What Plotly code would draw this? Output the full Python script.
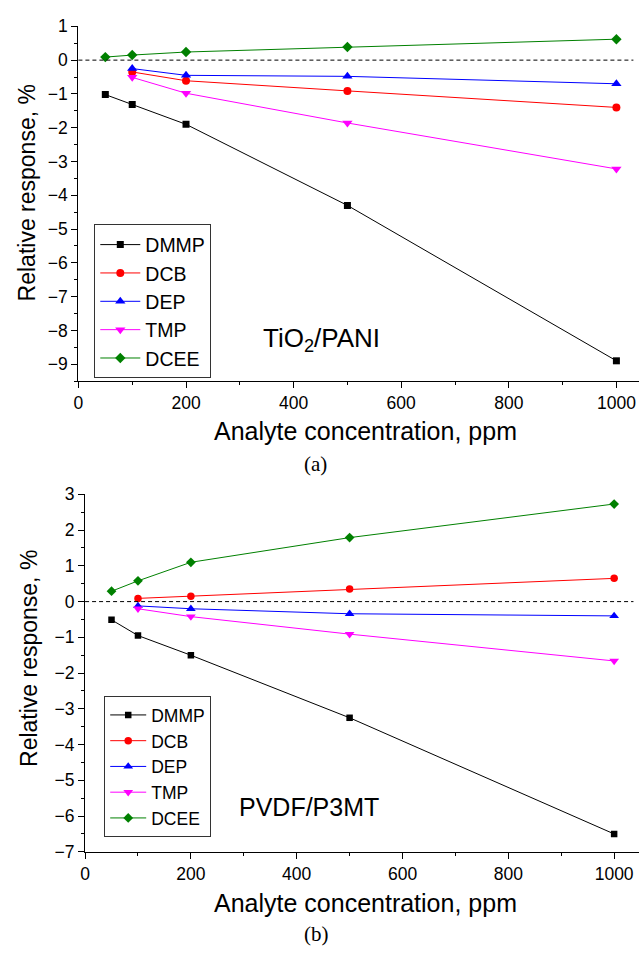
import plotly.graph_objects as go

# Analyte concentrations (ppm)
conc_all = [50, 100, 200, 500, 1000]
conc_no50 = [100, 200, 500, 1000]

# (a) TiO2/PANI relative response, %
a_dmmp = [-1.02, -1.31, -1.90, -4.30, -8.90]
a_dcb = [-0.35, -0.61, -0.91, -1.40]
a_dep = [-0.25, -0.45, -0.48, -0.70]
a_tmp = [-0.51, -0.98, -1.86, -3.22]
a_dcee = [0.09, 0.15, 0.24, 0.39, 0.62]

# (b) PVDF/P3MT relative response, %
b_dmmp = [-0.51, -0.95, -1.50, -3.25, -6.50]
b_dcb = [0.09, 0.15, 0.35, 0.65]
b_dep = [-0.12, -0.20, -0.34, -0.40]
b_tmp = [-0.20, -0.42, -0.91, -1.66]
b_dcee = [0.29, 0.58, 1.10, 1.79, 2.73]

names = ["DMMP", "DCB", "DEP", "TMP", "DCEE"]
colors = ["#000000", "#FF0000", "#0000FF", "#FF00FF", "#008000"]
symbols = ["square", "circle", "triangle-up", "triangle-down", "diamond"]
sizes_a = [7, 8, 9, 9, 8]
sizes_b = [6.5, 7.5, 8.5, 8.5, 7.5]

SANS = "Liberation Sans, Arial, sans-serif"
SERIF = "Liberation Serif, Times New Roman, serif"

fig = go.Figure()

panel_a = [(conc_all, a_dmmp), (conc_no50, a_dcb), (conc_no50, a_dep),
           (conc_no50, a_tmp), (conc_all, a_dcee)]
panel_b = [(conc_all, b_dmmp), (conc_no50, b_dcb), (conc_no50, b_dep),
           (conc_no50, b_tmp), (conc_all, b_dcee)]

for i, (xs, ys) in enumerate(panel_a):
    fig.add_trace(go.Scatter(
        x=xs, y=ys, name=names[i], mode="lines+markers",
        line=dict(color=colors[i], width=1),
        marker=dict(symbol=symbols[i], size=sizes_a[i], color=colors[i]),
        xaxis="x", yaxis="y", legend="legend"))

for i, (xs, ys) in enumerate(panel_b):
    fig.add_trace(go.Scatter(
        x=xs, y=ys, name=names[i], mode="lines+markers",
        line=dict(color=colors[i], width=1),
        marker=dict(symbol=symbols[i], size=sizes_b[i], color=colors[i]),
        xaxis="x2", yaxis="y2", legend="legend2"))

axis_common = dict(
    showline=True, linecolor="black", linewidth=1.2,
    ticks="outside", ticklen=6, tickwidth=1.2, tickcolor="black",
    showgrid=False, zeroline=False,
    tickfont=dict(family=SANS, size=17.5, color="black"),
)
minor_x = dict(dtick=100, ticklen=3, ticks="outside", tickcolor="black", tickwidth=1)
minor_y = dict(dtick=0.5, ticklen=3, ticks="outside", tickcolor="black", tickwidth=1)

W, H = 639, 957
fig.update_layout(
    width=W, height=H,
    margin=dict(l=0, r=0, t=0, b=0),
    paper_bgcolor="white", plot_bgcolor="white",
    xaxis=dict(axis_common, domain=[74 / W, 1], range=[0, 1042], anchor="y",
               dtick=200, minor=minor_x),
    yaxis=dict(axis_common, domain=[1 - 379 / H, 1 - 16.7 / H], range=[-9.5, 1],
               anchor="x", dtick=1, minor=minor_y),
    xaxis2=dict(axis_common, domain=[80.7 / W, 1], range=[0, 1047], anchor="y2",
                dtick=200, minor=minor_x),
    yaxis2=dict(axis_common, domain=[1 - 859.8 / H, 1 - 494.7 / H], range=[-7, 3],
                anchor="x2", dtick=1, minor=minor_y),
    legend=dict(x=90 / W, y=1 - 219 / H, xanchor="left", yanchor="top",
                bgcolor="white", bordercolor="#333333", borderwidth=1,
                font=dict(family=SANS, size=19.5, color="black"),
                itemwidth=40, tracegroupgap=0),
    legend2=dict(x=100 / W, y=1 - 700.7 / H, xanchor="left", yanchor="top",
                 bgcolor="white", bordercolor="#333333", borderwidth=1,
                 font=dict(family=SANS, size=17.5, color="black"),
                 itemwidth=36, tracegroupgap=0),
    showlegend=True,
)

# zero reference lines
for xr, yr in [("x domain", "y"), ("x2 domain", "y2")]:
    fig.add_shape(type="line", xref=xr, yref=yr, x0=0, x1=0.99, y0=0, y1=0,
                  line=dict(color="black", width=1, dash="4px,3px"))

ann = []
# axis titles
for cx, cy in [(363, 430), (363, 912)]:
    ann.append(dict(text="Analyte concentration, ppm", x=cx / W, y=1 - cy / H,
                    font=dict(family=SANS, size=25, color="black")))
for cx, cy in [(22.5, 187), (24, 662)]:
    ann.append(dict(text="Relative response, %", x=cx / W, y=1 - cy / H,
                    textangle=-90, font=dict(family=SANS, size=23, color="black")))
# panel captions
ann.append(dict(text="(a)", x=313 / W, y=1 - 464 / H,
                font=dict(family=SERIF, size=21, color="black")))
ann.append(dict(text="(b)", x=314 / W, y=1 - 944 / H,
                font=dict(family=SERIF, size=21, color="black")))
# material labels
ann.append(dict(text="TiO<sub>2</sub>/PANI", x=319 / W, y=1 - 337 / H,
                font=dict(family=SANS, size=26, color="black")))
ann.append(dict(text="PVDF/P3MT", x=306 / W, y=1 - 814 / H,
                font=dict(family=SANS, size=25, color="black")))

for a in ann:
    a.update(xref="paper", yref="paper", showarrow=False,
             xanchor="center", yanchor="middle")
    fig.add_annotation(**a)

fig.write_html("out.html")
